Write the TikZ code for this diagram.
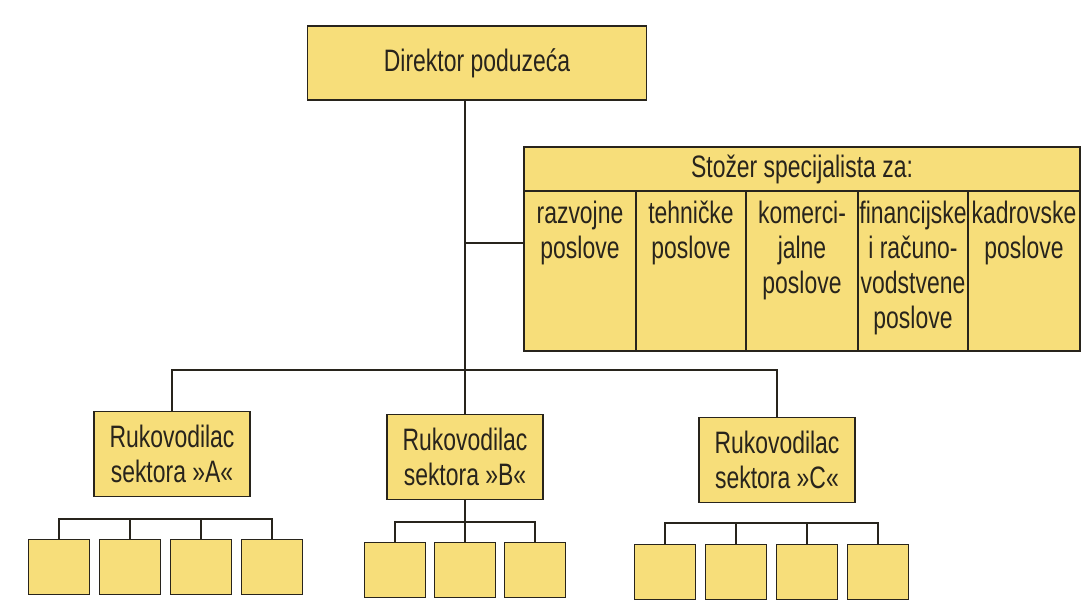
\documentclass[tikz,border=0pt]{standalone}
\usepackage{fontspec}
\setmainfont{Liberation Sans}[FakeStretch = 0.74]
\usetikzlibrary{positioning}
\definecolor{boxyellow}{RGB}{247,222,122}
\definecolor{boxline}{RGB}{40,36,28}

\begin{document}
\begin{tikzpicture}[x = 1pt, y = -1pt, line width = 1.5pt, color = boxline,
		font = \fontsize{31}{35}\selectfont,
		box/.style = {draw = boxline, fill = boxyellow, inner sep = 0pt, align = center},
		sector/.style = {box, minimum width = 156pt, minimum height = 85pt},
		unit/.style = {box, minimum width = 61pt, minimum height = 55pt},
		coltext/.style = {inner sep = 0pt, align = center, execute at begin node = \strut}]
		\useasboundingbox (0,0) rectangle (1085,608);
		% director and trunk
		\node[box, minimum width = 339pt, minimum height = 74pt] (dir) at (477,63) {Direktor poduzeća};
		\coordinate (trunk) at (465,370);
		% staff of specialists
		\node[box, minimum width = 556pt, minimum height = 44pt] (head) at (802,169) {Stožer specijalista za:};
		\foreach \n/\x/\w in {col1/580/112, col2/691/110, col3/802/112, col4/913/110, col5/1024/112}{
			\node[box, minimum width = \w pt, minimum height = 160pt] (\n) at (\x,271) {};
			}
		\node[coltext, below = 10pt of col1.north] (t1) {razvojne\\poslove};
		\node[coltext, below = 10pt of col2.north] (t2) {tehničke\\poslove};
		\node[coltext, below = 10pt of col3.north] (t3) {komerci-\\jalne\\poslove};
		\node[coltext, below = 10pt of col4.north] (t4) {financijske\\i računo-\\vodstvene\\poslove};
		\node[coltext, below = 10pt of col5.north] (t5) {kadrovske\\poslove};
		% sectors
		\node[sector] (A) at (172,454) {Rukovodilac\\sektora »A«};
		\node[sector] (B) at (465,457) {Rukovodilac\\sektora »B«};
		\node[sector] (C) at (777,460) {Rukovodilac\\sektora »C«};
		\draw (trunk |- dir.south) -- (B.north);
		\draw ([yshift = 28pt]col1.west) coordinate (sj) -- (sj -| trunk);
		\draw (A.north) |- (trunk) -| (C.north);
		% units below the sectors
		\foreach \i in {0,...,3}{
			\node[unit] (ua\i) at (59 + 71*\i, 567) {};
			\node[unit] (uc\i) at (665 + 71*\i, 572) {};
			}
		\foreach \i in {0,1,2}{
			\node[unit] (ub\i) at (395 + 70*\i, 570) {};
			}
		\draw (ua0.north) -- ++(0,-20) -| (ua3.north);
		\draw (ub0.north) -- ++(0,-20) -| (ub2.north);
		\draw (uc0.north) -- ++(0,-21) -| (uc3.north);
		\foreach \i in {1,2}{
			\draw (ua\i.north) -- ++(0,-20);
			\draw (uc\i.north) -- ++(0,-21);
			}
		\draw (B.south) -- (ub1.north);
\end{tikzpicture}
\end{document}
